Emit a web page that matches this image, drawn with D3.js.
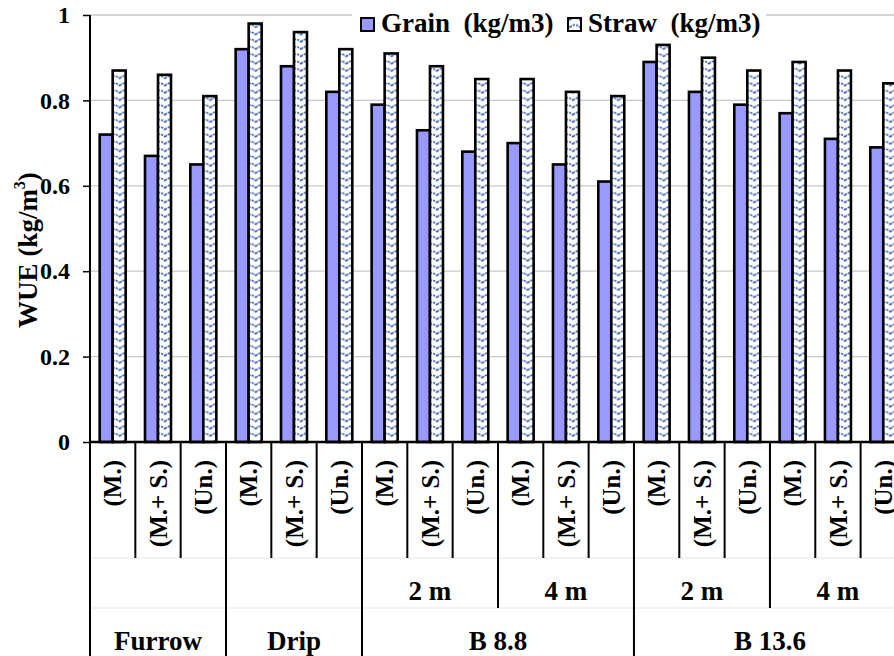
<!DOCTYPE html>
<html>
<head>
<meta charset="utf-8">
<script src="https://cdn.jsdelivr.net/npm/d3@7"></script>
<style>
  body { margin: 0; background: #fff; }
  svg { display: block; }
</style>
</head>
<body>
<svg id="chart" width="894" height="656"></svg>
<script>
// categories, three levels
const treatments = ["(M.)", "(M.+ S.)", "(Un.)", "(M.)", "(M.+ S.)", "(Un.)",
                    "(M.)", "(M.+ S.)", "(Un.)", "(M.)", "(M.+ S.)", "(Un.)",
                    "(M.)", "(M.+ S.)", "(Un.)", "(M.)", "(M.+ S.)", "(Un.)"];
const spacings = ["", "", "", "", "", "",
                  "2 m", "2 m", "2 m", "4 m", "4 m", "4 m",
                  "2 m", "2 m", "2 m", "4 m", "4 m", "4 m"];
const systems = ["Furrow", "Furrow", "Furrow", "Drip", "Drip", "Drip",
                 "B 8.8", "B 8.8", "B 8.8", "B 8.8", "B 8.8", "B 8.8",
                 "B 13.6", "B 13.6", "B 13.6", "B 13.6", "B 13.6", "B 13.6"];

// series values
const grain = [0.72, 0.67, 0.65, 0.92, 0.88, 0.82, 0.79, 0.73, 0.68, 0.70, 0.65, 0.61, 0.89, 0.82, 0.79, 0.77, 0.71, 0.69];
const straw = [0.87, 0.86, 0.81, 0.98, 0.96, 0.92, 0.91, 0.88, 0.85, 0.85, 0.82, 0.81, 0.93, 0.90, 0.87, 0.89, 0.87, 0.84];

const seriesNames = ["Grain  (kg/m3)", "Straw  (kg/m3)"];
const yTicks = [0, 0.2, 0.4, 0.6, 0.8, 1];

const FONT = "'Liberation Serif', 'Times New Roman', 'DejaVu Serif', serif";

const svg = d3.select("#chart");

const plotLeft = 90, plotTop = 15, plotBottom = 442;
const step = 45.33;
const plotRight = plotLeft + step * treatments.length;
const row1 = 558, row2 = 608, row3 = 656;

const idx = d3.range(treatments.length);

const x = d3.scaleBand()
    .domain(idx)
    .range([plotLeft, plotRight])
    .paddingInner(0.4265)
    .paddingOuter(0.2133);

const xs = d3.scaleBand()
    .domain(["grain", "straw"])
    .range([0, x.bandwidth()]);

const y = d3.scaleLinear()
    .domain([0, 1])
    .range([plotBottom, plotTop]);

// wavy pattern for straw
const defs = svg.append("defs");
const pat = defs.append("pattern")
    .attr("id", "wave")
    .attr("patternUnits", "userSpaceOnUse")
    .attr("width", 10)
    .attr("height", 7.3);
pat.append("rect").attr("width", 10).attr("height", 7.3).attr("fill", "#fff");
pat.append("path")
    .attr("d", "M0,5.6 Q5,0.2 10,5.6")
    .attr("fill", "none")
    .attr("stroke", "#3a5fae")
    .attr("stroke-width", 1.6)
    .attr("stroke-dasharray", "2.4,1");

// gridlines
svg.append("g")
    .selectAll("line")
    .data(yTicks.filter(d => d > 0))
    .join("line")
      .attr("x1", plotLeft).attr("x2", 894)
      .attr("y1", d => y(d)).attr("y2", d => y(d))
      .attr("stroke", "#c8c8c8")
      .attr("stroke-width", 1.3);

// faint row separators under the axis
svg.append("g")
    .selectAll("line")
    .data([row1, row2])
    .join("line")
      .attr("x1", plotLeft).attr("x2", 894)
      .attr("y1", d => d).attr("y2", d => d)
      .attr("stroke", "#e4e4e4")
      .attr("stroke-width", 1);

// bars
const cat = svg.append("g")
    .selectAll("g")
    .data(idx)
    .join("g")
      .attr("transform", d => `translate(${x(d)},0)`);

cat.append("rect")
    .attr("x", xs("grain"))
    .attr("width", xs.bandwidth())
    .attr("y", d => y(grain[d]))
    .attr("height", d => y(0) - y(grain[d]))
    .attr("fill", "#9999ff")
    .attr("stroke", "#000")
    .attr("stroke-width", 2.6);

cat.append("rect")
    .attr("x", xs("straw"))
    .attr("width", xs.bandwidth())
    .attr("y", d => y(straw[d]))
    .attr("height", d => y(0) - y(straw[d]))
    .attr("fill", "url(#wave)")
    .attr("stroke", "#000")
    .attr("stroke-width", 2.6);

// y axis
const yAxis = svg.append("g")
    .attr("transform", `translate(${plotLeft},0)`)
    .call(d3.axisLeft(y).tickValues(yTicks).tickSize(7).tickPadding(13)
        .tickFormat(d => String(+d.toFixed(1))));
yAxis.attr("font-family", FONT).attr("font-size", 24).attr("font-weight", "bold");
yAxis.select(".domain").remove();
yAxis.selectAll(".tick line").attr("stroke", "#000").attr("stroke-width", 1.5);

svg.append("line")
    .attr("x1", plotLeft).attr("x2", plotLeft)
    .attr("y1", plotTop).attr("y2", plotBottom)
    .attr("stroke", "#000").attr("stroke-width", 2);

// all other text
const txt = svg.append("g")
    .attr("font-family", FONT)
    .attr("font-weight", "bold")
    .attr("fill", "#000");

const yt = txt.append("text")
    .attr("transform", "translate(37,250) rotate(-90)")
    .attr("text-anchor", "middle")
    .attr("font-size", 27);
yt.append("tspan").text("WUE (kg/m");
yt.append("tspan").text("3").attr("font-size", 16).attr("dy", "-0.75em");
yt.append("tspan").text(")").attr("dy", "0.45em");

// category axis line
svg.append("line")
    .attr("x1", plotLeft).attr("x2", plotRight)
    .attr("y1", plotBottom).attr("y2", plotBottom)
    .attr("stroke", "#000").attr("stroke-width", 2.5);

// boundaries between categories
const edge = k => plotLeft + step * k;
const boundaries = d3.range(treatments.length + 1).map(k => {
  let depth = row1;
  if (k === 0 || k === treatments.length || systems[k] !== systems[k - 1]) depth = row3;
  else if (spacings[k] !== spacings[k - 1]) depth = row2;
  return {k, depth};
});

svg.append("g")
    .selectAll("line")
    .data(boundaries)
    .join("line")
      .attr("x1", d => edge(d.k)).attr("x2", d => edge(d.k))
      .attr("y1", plotBottom).attr("y2", d => d.depth)
      .attr("stroke", "#000").attr("stroke-width", 2);

// treatment labels
txt.append("g")
    .selectAll("text")
    .data(idx)
    .join("text")
      .attr("transform", d => `translate(${x(d) + x.bandwidth() / 2},460) rotate(-90)`)
      .attr("text-anchor", "end")
      .attr("dy", "0.35em")
      .attr("font-size", 25)
      .text(d => treatments[d]);

// runs of equal labels
function runs(arr, keyArr) {
  const out = [];
  arr.forEach((v, i) => {
    const last = out[out.length - 1];
    const key = keyArr ? keyArr[i] + "|" + v : v;
    if (last && last.key === key) last.end = i + 1;
    else out.push({key, label: v, start: i, end: i + 1});
  });
  return out;
}

txt.append("g")
    .selectAll("text")
    .data(runs(spacings, systems).filter(r => r.label))
    .join("text")
      .attr("x", d => (edge(d.start) + edge(d.end)) / 2)
      .attr("y", 600)
      .attr("text-anchor", "middle")
      .attr("font-size", 27)
      .text(d => d.label);

txt.append("g")
    .selectAll("text")
    .data(runs(systems))
    .join("text")
      .attr("x", d => (edge(d.start) + edge(d.end)) / 2)
      .attr("y", 650)
      .attr("text-anchor", "middle")
      .attr("font-size", 27)
      .text(d => d.label);

// legend
const lg = svg.append("g");
lg.append("rect")
    .attr("x", 352).attr("y", 0).attr("width", 414).attr("height", 38)
    .attr("fill", "#fff");
const legendX = [361, 568];
const legendFill = ["#9999ff", "url(#wave)"];
seriesNames.forEach((name, i) => {
  lg.append("rect")
      .attr("x", legendX[i]).attr("y", 18).attr("width", 13).attr("height", 13)
      .attr("fill", legendFill[i])
      .attr("stroke", "#000").attr("stroke-width", 2);
  lg.append("text")
      .attr("x", legendX[i] + 20).attr("y", 32)
      .attr("font-family", FONT)
      .attr("font-weight", "bold")
      .attr("font-size", 27)
      .style("white-space", "pre")
      .text(name);
});
</script>
</body>
</html>
